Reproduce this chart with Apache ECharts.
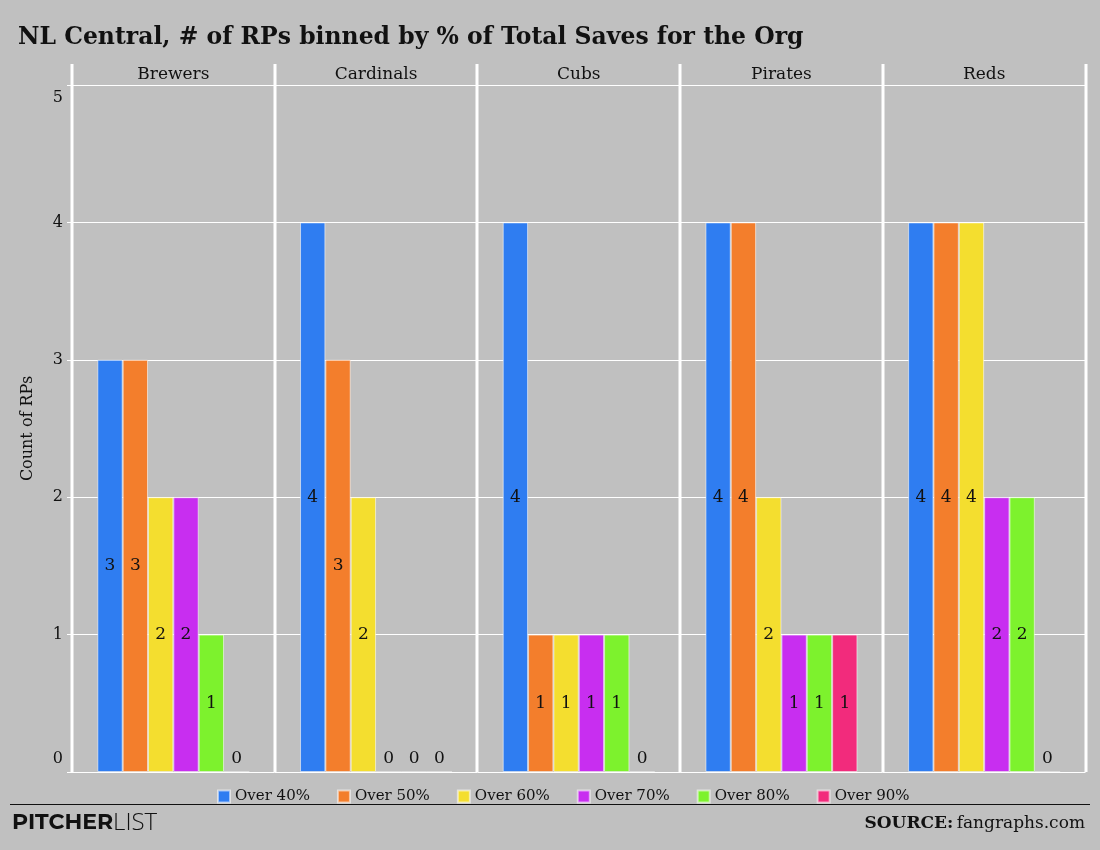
<!DOCTYPE html>
<html>
<head>
    <meta charset="utf-8">
    <title>NL Central RPs</title>
    <script type="text/javascript" src="https://cdn.jsdelivr.net/npm/echarts@6/dist/echarts.min.js"></script>
    <style>
        body {
            margin: 0px;
            padding: 0px;
            background: #c0c0c0;
        }
        #chart {
            width: 1100px;
            height: 850px;
        }
    </style>
</head>
<body>
<div id="chart"></div>
<script type="text/javascript">
    // teams (facets) and bins
    var teams = ['Brewers', 'Cardinals', 'Cubs', 'Pirates', 'Reds'];
    var bins = ['Over 40%', 'Over 50%', 'Over 60%', 'Over 70%', 'Over 80%', 'Over 90%'];
    var binColors = ['#2f7df1', '#f37e2c', '#f4de2f', '#c82ef0', '#7df22d', '#f22b7c'];

    // count of RPs per team, one array per bin
    var over40 = [3, 4, 4, 4, 4];
    var over50 = [3, 3, 1, 4, 4];
    var over60 = [2, 2, 1, 2, 4];
    var over70 = [2, 0, 1, 1, 2];
    var over80 = [1, 0, 1, 1, 2];
    var over90 = [0, 0, 0, 1, 0];
    var binValues = [over40, over50, over60, over70, over80, over90];

    var yTicks = [0, 1, 2, 3, 4, 5];

    // layout
    var panelLeft = 72, panelRight = 1085.5, panelTop = 85, panelBottom = 772;
    var panelW = (panelRight - panelLeft) / teams.length;
    var serif = '"DejaVu Serif", serif';

    var grids = [], xAxes = [], yAxes = [], series = [], graphics = [];

    for (var g = 0; g < teams.length; g++) {
        grids.push({
            left: panelLeft + g * panelW,
            top: panelTop,
            width: panelW,
            height: panelBottom - panelTop
        });
        xAxes.push({
            type: 'category',
            gridIndex: g,
            position: 'top',
            data: [teams[g]],
            axisLine: {show: false},
            axisTick: {show: false},
            axisLabel: {margin: 2, fontFamily: serif, fontSize: 17, color: '#111'}
        });
        yAxes.push({
            type: 'value',
            gridIndex: g,
            min: yTicks[0],
            max: yTicks[yTicks.length - 1],
            interval: 1,
            name: g === 0 ? 'Count of RPs' : '',
            nameLocation: 'middle',
            nameGap: 36,
            nameTextStyle: {fontFamily: serif, fontSize: 16, color: '#111'},
            axisLine: {show: false},
            axisTick: {show: g === 0, length: 5, lineStyle: {color: '#fff'}},
            axisLabel: {
                show: g === 0, margin: 9, fontFamily: serif, fontSize: 16, color: '#111',
                // end labels sit just inside the panel, as in the original
                formatter: function (val) {
                    return val === 5 ? '\n5' : (val === 0 ? '0\n' : String(val));
                },
                lineHeight: 26
            },
            splitLine: {show: true, lineStyle: {color: '#fff', width: 1}}
        });
        for (var b = 0; b < bins.length; b++) {
            var v = binValues[b][g];
            series.push({
                type: 'bar',
                name: bins[b],
                xAxisIndex: g,
                yAxisIndex: g,
                barGap: '0%',
                barCategoryGap: '25%',
                itemStyle: {color: binColors[b], borderColor: 'rgba(255,255,255,0.55)', borderWidth: 1},
                label: {
                    show: true,
                    position: v === 0 ? 'top' : 'inside',
                    distance: 4,
                    fontFamily: serif,
                    fontSize: 17,
                    color: '#111'
                },
                data: [v]
            });
        }
    }

    // white panel separators
    for (var s = 0; s <= teams.length; s++) {
        var x = Math.round(panelLeft + s * panelW);
        graphics.push({
            type: 'line',
            shape: {x1: x, y1: 64, x2: x, y2: panelBottom},
            style: {stroke: '#fff', lineWidth: 3},
            z: 10
        });
    }
    graphics.push({
        type: 'line',
        shape: {x1: 10, y1: 804.5, x2: 1090, y2: 804.5},
        style: {stroke: '#111', lineWidth: 1}
    });
    graphics.push({
        type: 'text',
        left: 12,
        top: 811,
        style: {
            text: '{a|PITCHER}{b|LIST}',
            rich: {
                a: {fontFamily: 'Montserrat, "Open Sans", sans-serif', fontWeight: 'bold', fontSize: 22, fill: '#111'},
                b: {fontFamily: '"Open Sans", sans-serif', fontWeight: 300, fontSize: 24, fill: '#111'}
            }
        }
    });
    graphics.push({
        type: 'text',
        right: 15,
        top: 815,
        style: {
            text: '{a|SOURCE:} {b|fangraphs.com}',
            rich: {
                a: {fontFamily: serif, fontWeight: 'bold', fontSize: 17, fill: '#111'},
                b: {fontFamily: serif, fontSize: 17, fill: '#111'}
            }
        }
    });

    var chart = echarts.init(document.getElementById('chart'));
    chart.setOption({
        backgroundColor: '#c0c0c0',
        animation: false,
        title: {
            text: 'NL Central, # of RPs binned by % of Total Saves for the Org',
            left: 13,
            top: 21,
            textStyle: {fontFamily: serif, fontWeight: 'bold', fontSize: 23.5, color: '#111'}
        },
        legend: {
            data: bins,
            left: 212,
            top: 784,
            icon: 'rect',
            itemWidth: 12,
            itemHeight: 12,
            itemGap: 27,
            textStyle: {fontFamily: serif, fontSize: 15, color: '#111'}
        },
        grid: grids,
        xAxis: xAxes,
        yAxis: yAxes,
        series: series,
        graphic: graphics
    });
</script>
</body>
</html>
